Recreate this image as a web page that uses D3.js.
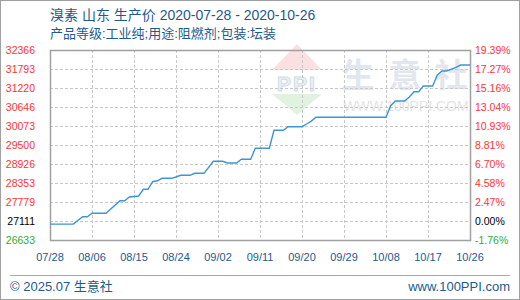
<!DOCTYPE html>
<html>
<head>
<meta charset="utf-8">
<script src="https://cdn.jsdelivr.net/npm/d3@7"></script>
<style>
  body { margin: 0; background: #fff; }
  svg { display: block; }
</style>
</head>
<body>
<div id="chart"></div>
<script>
// price readings (change points), 2020
var dates = ["07-28","08-02","08-04","08-05","08-06","08-09","08-12","08-13","08-14","08-16",
             "08-17","08-18","08-19","08-20","08-21","08-23","08-24","08-25","08-27","08-28",
             "08-30","09-01","09-03","09-04","09-06","09-07","09-09","09-10","09-13","09-14",
             "09-16","09-17","09-20","09-21","09-22","09-23","10-08","10-09","10-10","10-12",
             "10-13","10-14","10-15","10-16","10-18","10-19","10-20","10-21","10-23","10-24","10-26"];
var prices = [27111,27111,27336,27336,27439,27439,27819,27819,27930,27960,
              28163,28163,28392,28420,28494,28494,28534,28585,28585,28645,
              28645,29007,29007,28956,28956,29068,29068,29400,29400,29943,
              29943,30052,30052,30133,30220,30335,30335,30685,30827,30827,
              30947,31107,31107,31279,31279,31611,31732,31732,31844,31913,31913];

var xLabels = ["07/28","08/06","08/15","08/24","09/02","09/11","09/20","09/29","10/08","10/17","10/26"];
var leftLabels = ["26633","27111","27779","28353","28926","29500","30073","30646","31220","31793","32366"];
var rightLabels = ["-1.76%","0.00%","2.47%","4.58%","6.70%","8.81%","10.93%","13.04%","15.16%","17.27%","19.39%"];

var W = 520, H = 300;
var plotL = 50, plotR = 470, plotT = 50, plotB = 240;

var parse = d3.timeParse("%Y-%m-%d");
var data = dates.map(function(d, i) { return {date: parse("2020-" + d), value: prices[i]}; });

var svg = d3.select("#chart").append("svg")
    .attr("width", W)
    .attr("height", H)
    .style("font-family", "'Liberation Sans', Arial, 'Noto Sans CJK SC', sans-serif");

svg.append("rect")
    .attr("x", 0.5).attr("y", 0.5)
    .attr("width", W - 1).attr("height", H - 1)
    .attr("fill", "#fff")
    .attr("stroke", "#a0a0a0");

var x = d3.scaleTime()
    .domain([parse("2020-07-28"), parse("2020-10-26")])
    .range([plotL, plotR]);

var yMin = +leftLabels[0], yMax = +leftLabels[leftLabels.length - 1];
var y = d3.scaleLinear()
    .domain([yMin, yMax])
    .range([plotB, plotT]);

// evenly spaced grid, labels from the lists
var yTicks = d3.range(leftLabels.length).map(function(k) {
    return yMin + k * (yMax - yMin) / (leftLabels.length - 1);
});
var xTicks = xLabels.map(function(s) { return parse("2020-" + s.replace("/", "-")); });

// watermark
var wm = svg.append("g");
wm.append("path")
    .attr("d", "M272,70 L297,44 L322,70 Z")
    .attr("fill", "#fae0e0");
wm.append("text")
    .attr("x", 297).attr("y", 91)
    .attr("text-anchor", "middle")
    .attr("font-size", 21)
    .attr("font-weight", "bold")
    .attr("fill", "#eef1f6")
    .attr("stroke", "#d3dae7")
    .attr("stroke-width", 1)
    .attr("letter-spacing", 2)
    .text("PPI");
wm.append("path")
    .attr("d", "M272,94 L322,94 L297,115 Z")
    .attr("fill", "#e2f2e0");
wm.selectAll(".wmc")
    .data([["生", 358], ["意", 405], ["社", 451]])
    .enter().append("text")
    .attr("x", function(d) { return d[1]; })
    .attr("y", 87)
    .attr("text-anchor", "middle")
    .attr("font-size", 33)
    .attr("font-weight", "bold")
    .attr("font-family", "'Noto Sans CJK SC', sans-serif")
    .attr("fill", "#e2e6ee")
    .text(function(d) { return d[0]; });
wm.append("text")
    .attr("x", 406).attr("y", 111)
    .attr("text-anchor", "middle")
    .attr("font-size", 14)
    .attr("fill", "#e4e4e4")
    .text("WWW.100PPI.COM");

// grid
var grid = svg.append("g")
    .attr("stroke", "#c8c8c8")
    .attr("stroke-dasharray", "3,2");
grid.selectAll(".hg")
    .data(yTicks.slice(1, -1))
    .enter().append("line")
    .attr("x1", plotL).attr("x2", plotR)
    .attr("y1", function(d) { return Math.round(y(d)) + 0.5; })
    .attr("y2", function(d) { return Math.round(y(d)) + 0.5; });
grid.selectAll(".vg")
    .data(xTicks.slice(1, -1))
    .enter().append("line")
    .attr("y1", plotT).attr("y2", plotB)
    .attr("x1", function(d) { return Math.round(x(d)) + 0.5; })
    .attr("x2", function(d) { return Math.round(x(d)) + 0.5; });

// plot frame
svg.append("rect")
    .attr("x", plotL + 0.5).attr("y", plotT + 0.5)
    .attr("width", plotR - plotL).attr("height", plotB - plotT)
    .attr("fill", "none")
    .attr("stroke", "#a0a0a0")
    .attr("stroke-width", 1.5);

// line
var line = d3.line()
    .x(function(d) { return x(d.date); })
    .y(function(d) { return y(d.value); });
svg.append("path")
    .datum(data)
    .attr("d", line)
    .attr("fill", "none")
    .attr("stroke", "#3c96d3")
    .attr("stroke-width", 1.4);

function tickColor(k) {
    return k === 0 ? "#33aa33" : (k === 1 ? "#000" : "#ff3333");
}

// y labels
svg.selectAll(".yl")
    .data(leftLabels)
    .enter().append("text")
    .attr("x", 35)
    .attr("y", function(d, k) { return y(yTicks[k]) + 4; })
    .attr("text-anchor", "end")
    .attr("font-size", 10.5)
    .attr("fill", function(d, k) { return tickColor(k); })
    .text(function(d) { return d; });
svg.selectAll(".yr")
    .data(rightLabels)
    .enter().append("text")
    .attr("x", 475)
    .attr("y", function(d, k) { return y(yTicks[k]) + 4; })
    .attr("font-size", 10.5)
    .attr("fill", function(d, k) { return tickColor(k); })
    .text(function(d) { return d; });

// x labels
svg.selectAll(".xl")
    .data(xTicks)
    .enter().append("text")
    .attr("x", function(d) { return x(d); })
    .attr("y", 261)
    .attr("text-anchor", "middle")
    .attr("font-size", 11)
    .attr("fill", "#1f5a8c")
    .text(function(d, i) { return xLabels[i]; });

// titles
svg.append("text")
    .attr("x", 50).attr("y", 20)
    .attr("font-size", 14)
    .attr("fill", "#1f5a8c")
    .text("溴素 山东 生产价 2020-07-28 - 2020-10-26");
svg.append("text")
    .attr("x", 50).attr("y", 38)
    .attr("font-size", 13)
    .attr("fill", "#1f5a8c")
    .text("产品等级:工业纯;用途:阻燃剂;包装:坛装");

// footer
svg.append("line")
    .attr("x1", 10).attr("x2", 510)
    .attr("y1", 275.5).attr("y2", 275.5)
    .attr("stroke", "#a8a8a8");
svg.append("text")
    .attr("x", 10).attr("y", 291)
    .attr("font-size", 13)
    .attr("fill", "#1f5a8c")
    .text("© 2025.07 生意社");
svg.append("text")
    .attr("x", 510).attr("y", 291)
    .attr("text-anchor", "end")
    .attr("font-size", 13)
    .attr("fill", "#1f5a8c")
    .text("www.100PPI.com");
</script>
</body>
</html>
